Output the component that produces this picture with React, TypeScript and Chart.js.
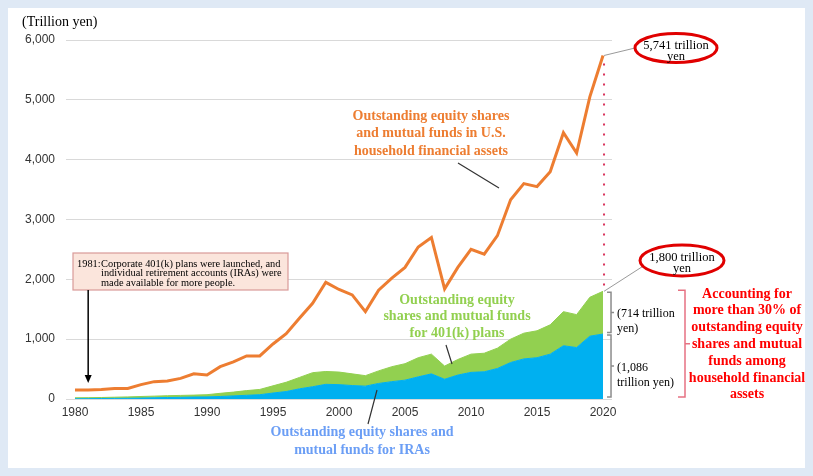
import React, { useEffect, useRef } from "react";
import { Chart, registerables } from "chart.js";

Chart.register(...registerables);

const years = [
  1980, 1981, 1982, 1983, 1984, 1985, 1986, 1987, 1988, 1989,
  1990, 1991, 1992, 1993, 1994, 1995, 1996, 1997, 1998, 1999,
  2000, 2001, 2002, 2003, 2004, 2005, 2006, 2007, 2008, 2009,
  2010, 2011, 2012, 2013, 2014, 2015, 2016, 2017, 2018, 2019, 2020,
];

// Outstanding equity shares and mutual funds in U.S. household financial assets
const householdTotal = [
  150, 150, 160, 175, 175, 240, 290, 300, 345, 420,
  400, 540, 620, 720, 720, 920, 1090, 1350, 1600, 1950,
  1830, 1740, 1460, 1820, 2020, 2200, 2540, 2700, 1840, 2200,
  2500, 2420, 2730, 3330, 3600, 3550, 3800, 4450, 4110, 5050, 5741,
];

// Outstanding equity shares and mutual funds for IRAs
const iraValues = [
  3, 5, 8, 10, 12, 15, 20, 25, 28, 33,
  35, 42, 52, 62, 72, 100, 125, 170, 205, 245,
  240, 225, 215, 260, 290, 315, 370, 420, 330, 400,
  445, 455, 510, 610, 670, 690, 750, 890, 860, 1050, 1086,
];

// Outstanding equity shares and mutual funds for 401(k) plans
const k401Values = [
  17, 17, 17, 20, 23, 27, 28, 30, 32, 32,
  37, 53, 63, 78, 88, 120, 155, 190, 235, 215,
  210, 195, 175, 210, 250, 275, 320, 330, 220, 260,
  305, 310, 340, 390, 430, 450, 490, 570, 550, 650, 714,
];

const xTickLabels = [1980, 1985, 1990, 1995, 2000, 2005, 2010, 2015, 2020];
const yTickValues = [0, 1000, 2000, 3000, 4000, 5000, 6000];

const SERIF = '"Liberation Serif", "Times New Roman", serif';
const SANS = '"Liberation Sans", Arial, sans-serif';

const annotationPlugin = {
  id: "annotations",
  beforeDraw(chart: any) {
    const { ctx, width, height } = chart;
    ctx.save();
    ctx.fillStyle = "#dfe9f5";
    ctx.fillRect(0, 0, width, height);
    ctx.fillStyle = "#ffffff";
    ctx.fillRect(8, 8, width - 16, height - 16);
    ctx.restore();
  },
  afterDraw(chart: any) {
    const ctx = chart.ctx;
    const xs = chart.scales.x;
    const ys = chart.scales.y;
    const X = (v: number) => xs.getPixelForValue(v);
    const Y = (v: number) => ys.getPixelForValue(v);
    const last = years.length - 1;
    const lastYear = years[last];
    const lastTotal = householdTotal[last];
    const lastIra = iraValues[last];
    const lastPlans = iraValues[last] + k401Values[last];

    ctx.save();
    // unit label
    ctx.fillStyle = "#000";
    ctx.font = `14px ${SERIF}`;
    ctx.textAlign = "left";
    ctx.textBaseline = "middle";
    ctx.fillText("(Trillion yen)", 22, 22);

    // dotted red line at last year
    ctx.strokeStyle = "#d8345c";
    ctx.lineWidth = 2;
    ctx.setLineDash([2, 8]);
    ctx.beginPath();
    ctx.moveTo(X(lastYear) + 1, Y(lastTotal) + 8);
    ctx.lineTo(X(lastYear) + 1, Y(lastPlans) - 2);
    ctx.stroke();
    ctx.setLineDash([]);

    // connectors to ellipses
    ctx.strokeStyle = "#9a9a9a";
    ctx.lineWidth = 1;
    ctx.beginPath();
    ctx.moveTo(X(lastYear) + 1, Y(lastTotal));
    ctx.lineTo(635, 48);
    ctx.moveTo(X(lastYear) + 1, Y(lastPlans));
    ctx.lineTo(648, 263);
    ctx.stroke();

    // ellipses
    const ellipse = (cx: number, cy: number, rx: number, ry: number, l1: string, l2: string) => {
      ctx.beginPath();
      ctx.ellipse(cx, cy, rx, ry, 0, 0, Math.PI * 2);
      ctx.fillStyle = "#fff";
      ctx.fill();
      ctx.strokeStyle = "#e00000";
      ctx.lineWidth = 3;
      ctx.stroke();
      ctx.fillStyle = "#000";
      ctx.font = `12.5px ${SERIF}`;
      ctx.textAlign = "center";
      ctx.textBaseline = "middle";
      ctx.fillText(l1, cx, cy - 2.5);
      ctx.fillText(l2, cx, cy + 8.5);
    };
    ellipse(676, 48, 41, 14.5, "5,741 trillion", "yen");
    ellipse(682, 260.5, 42, 15.5, "1,800 trillion", "yen");

    // small grey brackets
    const bx = X(lastYear) + 8;
    ctx.strokeStyle = "#8c8c8c";
    ctx.lineWidth = 1.5;
    const bracket = (top: number, bottom: number, x: number, l: number, r: number) => {
      ctx.beginPath();
      ctx.moveTo(x - l, top);
      ctx.lineTo(x, top);
      ctx.lineTo(x, bottom);
      ctx.lineTo(x - l, bottom);
      const mid = (top + bottom) / 2;
      ctx.moveTo(x, mid);
      ctx.lineTo(x + r, mid);
      ctx.stroke();
    };
    bracket(Y(lastPlans) + 1, Y(lastIra) - 1.5, bx, 4, 3);
    bracket(Y(lastIra) + 1, Y(0) - 2, bx, 4, 3);
    ctx.fillStyle = "#000";
    ctx.font = `12px ${SERIF}`;
    ctx.textAlign = "left";
    ctx.textBaseline = "middle";
    const m1 = (Y(lastPlans) + Y(lastIra)) / 2;
    ctx.fillText("(714 trillion", bx + 6, m1 + 1);
    ctx.fillText("yen)", bx + 6, m1 + 16);
    const m2 = (Y(lastIra) + Y(0)) / 2;
    ctx.fillText("(1,086", bx + 6, m2 + 1);
    ctx.fillText("trillion yen)", bx + 6, m2 + 16);

    // big pink bracket
    ctx.strokeStyle = "#e67282";
    ctx.lineWidth = 1.5;
    bracket(Y(lastPlans) - 1, Y(0) - 2, 685, 7, 5);

    // red statement
    ctx.fillStyle = "#ff0000";
    ctx.font = `bold 14px ${SERIF}`;
    ctx.textAlign = "center";
    const redLines = [
      "Accounting for",
      "more than 30% of",
      "outstanding equity",
      "shares and mutual",
      "funds among",
      "household financial",
      "assets",
    ];
    redLines.forEach((s, i) => ctx.fillText(s, 747, 294 + i * 16.8));

    // orange label
    ctx.fillStyle = "#ed7d31";
    ["Outstanding equity shares", "and mutual funds in U.S.", "household financial assets"].forEach((s, i) =>
      ctx.fillText(s, 431, 116 + i * 17.5)
    );
    // green label
    ctx.fillStyle = "#92d050";
    ["Outstanding equity", "shares and mutual funds", "for 401(k) plans"].forEach((s, i) =>
      ctx.fillText(s, 457, 300 + i * 16.7)
    );
    // blue label
    ctx.fillStyle = "#6b9ef5";
    ["Outstanding equity shares and", "mutual funds for IRAs"].forEach((s, i) =>
      ctx.fillText(s, 362, 432 + i * 18)
    );

    // pointer lines
    ctx.strokeStyle = "#333";
    ctx.lineWidth = 1.2;
    ctx.beginPath();
    ctx.moveTo(458, 163);
    ctx.lineTo(499, 188);
    ctx.moveTo(446, 345);
    ctx.lineTo(452, 364);
    ctx.moveTo(377, 390);
    ctx.lineTo(368, 424);
    ctx.stroke();

    // annotation box
    ctx.fillStyle = "#fbe5dc";
    ctx.fillRect(73, 253, 215, 37);
    ctx.strokeStyle = "#d99a98";
    ctx.lineWidth = 1.2;
    ctx.strokeRect(73, 253, 215, 37);
    ctx.fillStyle = "#000";
    ctx.font = `10.4px ${SERIF}`;
    ctx.textAlign = "left";
    ctx.textBaseline = "middle";
    ctx.fillText("1981:", 77, 264);
    ctx.fillText("Corporate 401(k) plans were launched, and", 101, 264);
    ctx.fillText("individual retirement accounts (IRAs) were", 101, 273.5);
    ctx.fillText("made available for more people.", 101, 283);

    // arrow to 1981
    const ax = X(1981);
    const tipY = Y(householdTotal[1]) - 7;
    ctx.strokeStyle = "#000";
    ctx.lineWidth = 1.5;
    ctx.beginPath();
    ctx.moveTo(ax, 290);
    ctx.lineTo(ax, tipY - 6);
    ctx.stroke();
    ctx.fillStyle = "#000";
    ctx.beginPath();
    ctx.moveTo(ax, tipY);
    ctx.lineTo(ax - 3.5, tipY - 8);
    ctx.lineTo(ax + 3.5, tipY - 8);
    ctx.closePath();
    ctx.fill();

    ctx.restore();
  },
};

export default function App() {
  const ref = useRef<HTMLCanvasElement | null>(null);

  useEffect(() => {
    document.body.style.margin = "0";
    const canvas = ref.current;
    if (!canvas) return;
    const toPts = (arr: number[]) => arr.map((v, i) => ({ x: years[i], y: v }));
    const chart = new Chart(canvas, {
      type: "line",
      data: {
        datasets: [
          {
            label: "Household equity shares and mutual funds",
            data: toPts(householdTotal),
            borderColor: "#ed7d31",
            borderWidth: 3,
            pointRadius: 0,
            fill: false,
            stack: "household",
            tension: 0,
          },
          {
            label: "IRAs",
            data: toPts(iraValues),
            borderColor: "#00b0f0",
            backgroundColor: "#00b0f0",
            borderWidth: 1,
            pointRadius: 0,
            fill: "origin",
            stack: "plans",
            tension: 0,
          },
          {
            label: "401(k) plans",
            data: toPts(k401Values),
            borderColor: "#92d050",
            backgroundColor: "#92d050",
            borderWidth: 1,
            pointRadius: 0,
            fill: "-1",
            stack: "plans",
            tension: 0,
          },
        ],
      },
      options: {
        responsive: false,
        animation: false,
        devicePixelRatio: 1,
        layout: { padding: { left: 8, top: 40, right: 201, bottom: 47 } },
        plugins: { legend: { display: false }, tooltip: { enabled: false } },
        scales: {
          x: {
            type: "linear",
            min: 1979.32,
            max: 2020.68,
            afterFit: (s: any) => {
              s.height = 30;
            },
            afterBuildTicks: (s: any) => {
              s.ticks = xTickLabels.map((v) => ({ value: v }));
            },
            ticks: {
              padding: 6,
              color: "#333",
              font: { family: SANS, size: 12 },
              callback: (v: any) => String(v),
              maxRotation: 0,
              autoSkip: false,
            },
            grid: { display: false, drawTicks: false },
            border: { display: false },
          },
          y: {
            stacked: true,
            min: 0,
            max: 6000,
            afterFit: (s: any) => {
              s.width = 58;
            },
            afterBuildTicks: (s: any) => {
              s.ticks = yTickValues.map((v) => ({ value: v }));
            },
            ticks: {
              padding: 11,
              color: "#333",
              font: { family: SANS, size: 12 },
              callback: (v: any) => Number(v).toLocaleString("en-US"),
            },
            grid: { color: "#d9d9d9", lineWidth: 1, drawTicks: false },
            border: { display: false },
          },
        },
      },
      plugins: [annotationPlugin],
    } as any);
    return () => chart.destroy();
  }, []);

  return (
    <div style={{ position: "fixed", left: 0, top: 0, width: 813, height: 476 }}>
      <canvas ref={ref} width={813} height={476} style={{ display: "block" }} />
    </div>
  );
}
